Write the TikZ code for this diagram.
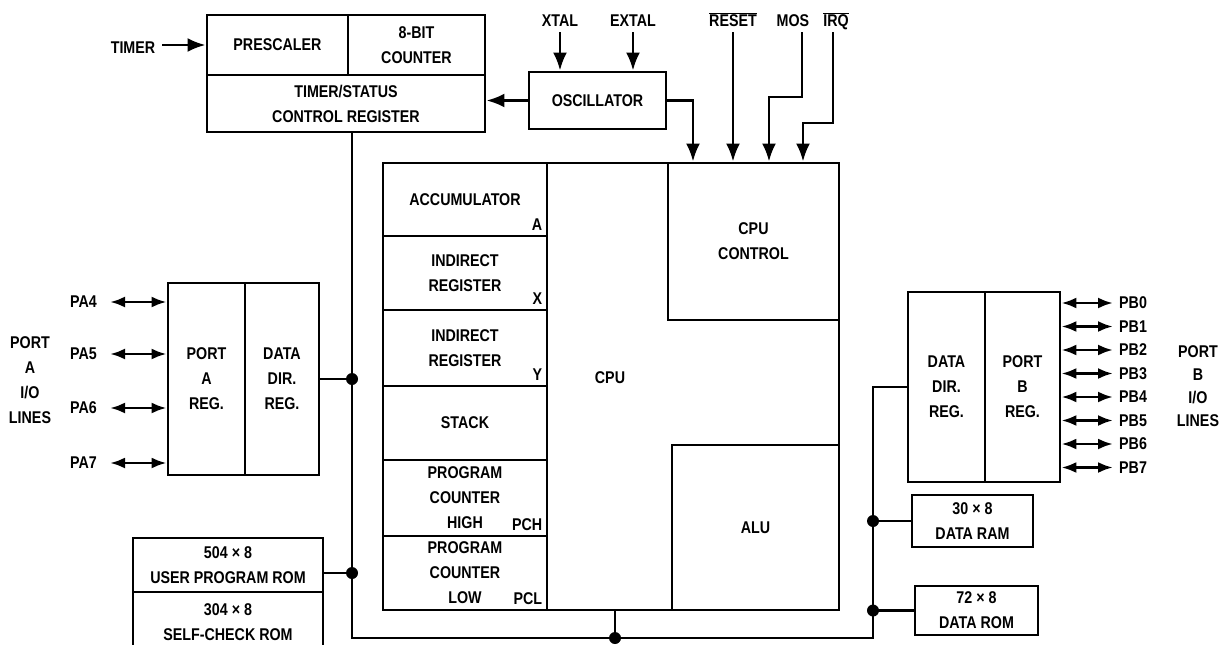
\documentclass[tikz,border=0pt]{standalone}
\usepackage{fontspec}
\setmainfont{Liberation Sans}[FakeStretch=0.84]
\usetikzlibrary{arrows.meta}
\newcommand\lab{\fontsize{17}{25}\selectfont\bfseries}
\newcommand\ovl[1]{\ensuremath{\overline{\mbox{#1}}}}
\newcommand\bx[6]{\node[box, minimum width={#4-#2}, minimum height={#5-#3}] (#1) at ({(#2+#4)/2},{(#3+#5)/2}) {#6};}
\begin{document}
\begin{tikzpicture}[x=1pt,y=-1pt,
  box/.style={draw, line width=2.8pt, inner sep=0pt, align=center, font=\lab},
  lbl/.style={inner sep=0pt, align=center, font=\lab},
  wire/.style={line width=2.8pt},
  ar/.style={wire, -{Latex[length=18pt,width=14pt]}},
  biar/.style={wire, {Latex[length=15pt,width=11pt]}-{Latex[length=15pt,width=11pt]}},
  dot/.style={circle, fill, inner sep=0pt, minimum size=12pt},
]
\useasboundingbox (0,0) rectangle (1224,645);
\clip (0,0) rectangle (1224,645);

% timer
\bx{presc}{207}{15}{348}{75}{PRESCALER}
\bx{cnt}{348}{15}{485}{75}{8-BIT\\COUNTER}
\bx{tsr}{207}{75}{485}{132}{TIMER/STATUS\\CONTROL REGISTER}
\node[lbl, anchor=base] (timer) at (133,53) {TIMER};
\draw[ar] ([xshift=7pt]timer.east |- presc.west) -- (presc.west);

% oscillator
\bx{osc}{529}{72}{666}{129}{OSCILLATOR}
\node[lbl, anchor=base] (xtal) at (560,26) {XTAL};
\node[lbl, anchor=base] (extal) at (633,26) {EXTAL};
\draw[ar] ([yshift=-6pt]xtal.base) -- (xtal.base |- osc.north);
\draw[ar] ([yshift=-6pt]extal.base) -- (extal.base |- osc.north);
\draw[ar] (osc.west) -- (osc.west -| tsr.east);

% CPU
\bx{cpu}{383}{163}{839}{610}{}
\node[lbl] (cputxt) at (610,378) {CPU};
\bx{acc}{383}{163}{547}{236}{ACCUMULATOR}
\bx{ix}{383}{236}{547}{310}{INDIRECT\\REGISTER}
\bx{iy}{383}{310}{547}{386}{INDIRECT\\REGISTER}
\bx{stk}{383}{386}{547}{460}{STACK}
\bx{pch}{383}{460}{547}{536}{PROGRAM\\COUNTER\\HIGH}
\bx{pcl}{383}{536}{547}{610}{PROGRAM\\COUNTER\\LOW}
\node[lbl, anchor=south east] (la) at ([xshift=-6pt,yshift=7pt]acc.south east) {A};
\node[lbl, anchor=south east] (lx) at ([xshift=-6pt,yshift=7pt]ix.south east) {X};
\node[lbl, anchor=south east] (ly) at ([xshift=-6pt,yshift=7pt]iy.south east) {Y};
\node[lbl, anchor=south east] (lpch) at ([xshift=-6pt,yshift=7pt]pch.south east) {PCH};
\node[lbl, anchor=south east] (lpcl) at ([xshift=-6pt,yshift=7pt]pcl.south east) {PCL};
\bx{ctl}{668}{163}{839}{320}{CPU\\CONTROL}
\bx{alu}{672}{445}{839}{610}{ALU}

% control inputs
\node[lbl, anchor=base] (reset) at (733,26) {\ovl{RESET}};
\node[lbl, anchor=base] (mos) at (793,26) {MOS};
\node[lbl, anchor=base] (irq) at (836,26) {\ovl{IRQ}};
\coordinate (oscin) at (693,0);
\coordinate (mosin) at (769,0);
\coordinate (irqin) at (803,0);
\draw[ar] (osc.east) -| (oscin |- cpu.north);
\draw[ar] ([yshift=-6pt]reset.base) -- (reset.base |- cpu.north);
\draw[ar] ([xshift=9pt,yshift=-6pt]mos.base) -- ++(0,65) -| (mosin |- cpu.north);
\draw[ar] ([xshift=-3pt,yshift=-6pt]irq.base) -- ++(0,91) -| (irqin |- cpu.north);

% port A
\bx{porta}{168}{283}{245}{475}{PORT\\A\\REG.}
\bx{ddra}{245}{283}{319}{475}{DATA\\DIR.\\REG.}
\foreach \k/\y in {4/302,5/354,6/408,7/463} {
  \coordinate (pa\k) at (110,\y);
  \draw[biar] (pa\k) -- (pa\k -| porta.west);
  \node[lbl, anchor=east] (pal\k) at ([xshift=-13pt]pa\k) {PA\k};
}
\node[lbl] (portalines) at (30,380) {PORT\\A\\I/O\\LINES};

% port B
\bx{ddrb}{908}{292}{985}{482}{DATA\\DIR.\\REG.}
\bx{portb}{985}{292}{1060}{482}{PORT\\B\\REG.}
\foreach \k/\y in {0/303,1/326.5,2/350,3/373.5,4/397,5/420.5,6/444,7/467.5} {
  \coordinate (pb\k) at (1113,\y);
  \draw[biar] (pb\k -| portb.east) -- (pb\k);
  \node[lbl, anchor=west] (pbl\k) at ([xshift=6pt]pb\k) {PB\k};
}
\node[lbl, font=\fontsize{17}{23}\selectfont\bfseries] (portblines) at (1198,386) {PORT\\B\\I/O\\LINES};

% memories
\bx{urom}{133}{538}{323}{592}{504 × 8\\USER PROGRAM ROM}
\bx{srom}{133}{592}{323}{652}{304 × 8\\SELF-CHECK ROM}
\bx{dram}{912}{495}{1033}{547}{30 × 8\\DATA RAM}
\bx{drom}{915}{586}{1038}{635}{72 × 8\\DATA ROM}

% bus
\coordinate (bl) at (352,638);
\coordinate (br) at (873,638);
\draw[wire] (bl |- tsr.south) -- (bl) -- (br) |- (ddrb.west);
\draw[wire] (ddra.east) -- (ddra.east -| bl) node[dot] (d1) {};
\draw[wire] ([yshift=-8pt]urom.east) -- ([yshift=-8pt]urom.east -| bl) node[dot] (d2) {};
\draw[wire] ([xshift=4pt]cpu.south) -- ([xshift=4pt]cpu.south |- bl) node[dot] (d3) {};
\draw[wire] (dram.west) -- (dram.west -| br) node[dot] (d4) {};
\draw[wire] (drom.west) -- (drom.west -| br) node[dot] (d5) {};
\end{tikzpicture}
\end{document}
